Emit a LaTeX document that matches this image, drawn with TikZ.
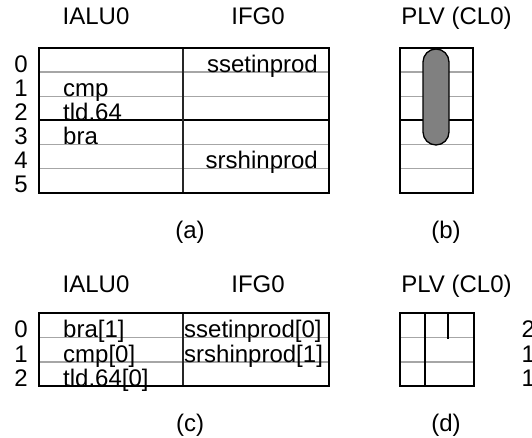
\documentclass[tikz,border=0pt]{standalone}
\usepackage{fontspec}
\setmainfont{Liberation Sans}
\begin{document}
\begin{tikzpicture}[x=1pt,y=-1pt,
  lbl/.style={anchor=base, inner sep=0pt, font=\fontsize{24}{24}\selectfont},
  lblw/.style={lbl, anchor=base west},
  lble/.style={lbl, anchor=base east},
  frame/.style={draw=black, line width=2pt},
  rowline/.style={draw=black!35, line width=1.4pt},
  heavy/.style={draw=black, line width=2pt},
  colline/.style={draw=black!85, line width=1.2pt},
  slot/.style={draw=black, line width=1.3pt, fill=black!50, rounded corners=13pt}]
\useasboundingbox (0,0) rectangle (532,438);
\clip (0,0) rectangle (532,438);

% ---------- (a) reservation table, IALU0 / IFG0 ----------
\foreach \y in {72.2,96.3,144.7,168.8} \draw[rowline] (39,\y) -- (329,\y);
\draw[heavy] (39,120.5) -- (329,120.5);
\draw[colline] (183,48) -- (183,193);
\draw[frame] (39,48) rectangle (329,193);

\node[lbl] (ha1) at (96,25) {IALU0};
\node[lbl] (ha2) at (258,25) {IFG0};
\node[lbl] (ra0) at (21,72.2) {0};
\node[lbl] (ra1) at (21,96.3) {1};
\node[lbl] (ra2) at (21,120.5) {2};
\node[lbl] (ra3) at (21,144.7) {3};
\node[lbl] (ra4) at (21,168.8) {4};
\node[lbl] (ra5) at (21,193) {5};
\node[lble] (sset) at (318,72.2) {ssetinprod};
\node[lblw] (cmp) at (63,96.3) {cmp};
\node[lblw] (tld) at (63,120.5) {tld.64};
\node[lblw] (bra) at (63,144.7) {bra};
\node[lble] (srsh) at (318,168.8) {srshinprod};
\node[lbl] (capa) at (190,238) {(a)};

% ---------- (b) PLV (CL0) ----------
\foreach \y in {72.2,96.3,144.7,168.8} \draw[rowline] (400,\y) -- (473,\y);
\draw[heavy] (400,120.5) -- (473,120.5);
\draw[frame] (400,48) rectangle (473,193);
\draw[slot] (423,49) rectangle (449,145);
\node[lbl] (hb) at (456.5,25) {PLV (CL0)};
\node[lbl] (capb) at (446,238) {(b)};

% ---------- (c) folded table ----------
\foreach \y in {337.7,362} \draw[rowline] (39,\y) -- (329,\y);
\draw[colline] (183,313) -- (183,386);
\draw[frame] (39,313) rectangle (329,386);

\node[lbl] (hc1) at (96,292) {IALU0};
\node[lbl] (hc2) at (258,292) {IFG0};
\node[lbl] (rc0) at (21,337.7) {0};
\node[lbl] (rc1) at (21,362) {1};
\node[lbl] (rc2) at (21,386) {2};
\node[lblw] (bra1) at (63,337.7) {bra[1]};
\node[lblw] (cmp0) at (63,362) {cmp[0]};
\node[lblw] (tld0) at (63,386) {tld.64[0]};
\node[lblw] (sset0) at (184,337.7) {ssetinprod[0]};
\node[lblw] (srsh1) at (184,362) {srshinprod[1]};
\node[lbl] (capc) at (190,431) {(c)};

% ---------- (d) folded PLV ----------
\foreach \y in {337.7,362} \draw[rowline] (400,\y) -- (474,\y);
\draw[heavy] (425,313) -- (425,386);
\draw[heavy] (448,313) -- (448,338.5);
\draw[frame] (400,313) rectangle (474,386);
\node[lbl] (hd) at (456.5,292) {PLV (CL0)};
\node[lblw] (rd0) at (521.5,337.7) {2};
\node[lblw] (rd1) at (521.5,362) {1};
\node[lblw] (rd2) at (521.5,386) {1};
\node[lbl] (capd) at (446,431) {(d)};
\end{tikzpicture}
\end{document}
